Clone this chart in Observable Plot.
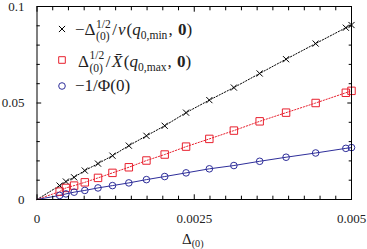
<!DOCTYPE html>
<html><head><meta charset="utf-8">
<script src="https://cdn.jsdelivr.net/npm/d3@7"></script>
<script src="https://cdn.jsdelivr.net/npm/@observablehq/plot@0.6"></script>
<style>body{margin:0;background:#fff} svg{display:block} svg text{font-family:"Liberation Serif","DejaVu Serif",serif !important}</style>
</head><body><div id="chart"></div>
<script>
// Δ_(0) values (x)
const delta = [0.00036,0.00046,0.00059,0.00076,0.00097,0.0012,0.00146,0.00174,0.00203,0.00237,0.00274,0.00313,0.00354,0.00396,0.00443,0.00491,0.005];
// −Δ^{1/2}/ν(q0,min, 0)
const nuSeries = [0.0072,0.0093,0.0115,0.015,0.0186,0.0227,0.0279,0.033,0.0382,0.045,0.0515,0.058,0.0653,0.0727,0.0808,0.089,0.0904];
// Δ^{1/2}/X̄(q0,max, 0)
const xbarSeries = [0.0041,0.006,0.0072,0.0089,0.0112,0.0138,0.0167,0.0202,0.0233,0.0274,0.0314,0.0357,0.0405,0.045,0.05,0.0553,0.0563];
// −1/Φ(0)
const phiSeries = [0.0021,0.0029,0.0038,0.0047,0.006,0.0072,0.0086,0.0103,0.0119,0.0138,0.0159,0.0176,0.0198,0.0219,0.0241,0.0265,0.0269];
const seriesKeys = ["nu","xbar","phi"];
const xTicks = [0, 0.0025, 0.005];
const xTickLabels = ["0", "0.0025", "0.005"];
const yTicks = [0, 0.05, 0.1];
const yTickLabels = ["0", "0.05", "0.1"];
const xMinor = d3.range(1, 20).filter(i => i % 10).map(i => i * 0.00025);
const yMinor = d3.range(1, 10).filter(i => i % 5).map(i => i * 0.01);

const BLACK = "#000", RED = "#e8202e", BLUE = "#2e2e9a";
const FONT = "'Liberation Serif', 'DejaVu Serif', serif";
const styleOf = {
  nu:   {color: BLACK, symbol: "times",  r: 2.9, dash: "1.3,1.7", lw: 1},
  xbar: {color: RED,   symbol: "square", r: 4.2, dash: "1.3,1.7", lw: 1},
  phi:  {color: BLUE,  symbol: "circle", r: 3.3, dash: null,      lw: 1}
};
const valuesOf = {nu: nuSeries, xbar: xbarSeries, phi: phiSeries};
const points = seriesKeys.flatMap(k => delta.map((x, i) => ({x, y: valuesOf[k][i], k})));

const marks = [];
for (const k of seriesKeys) {
  const s = styleOf[k];
  const pts = points.filter(d => d.k === k);
  // fitted line through the origin
  marks.push(Plot.line([{x: 0, y: 0}, ...pts], {x: "x", y: "y", stroke: s.color, strokeWidth: s.lw, strokeDasharray: s.dash}));
}
for (const k of seriesKeys) {
  const s = styleOf[k];
  marks.push(Plot.dot(points.filter(d => d.k === k), {x: "x", y: "y", symbol: () => s.symbol, r: s.r, stroke: s.color, strokeWidth: 1, fill: "none"}));
}

const tickAxis = (anchor, ticks, size) =>
  (anchor === "bottom" || anchor === "top")
    ? Plot.axisX(ticks, {anchor, tickSize: size, text: null, label: null, stroke: BLACK, strokeWidth: 1})
    : Plot.axisY(ticks, {anchor, tickSize: size, text: null, label: null, stroke: BLACK, strokeWidth: 1});

const chart = Plot.plot({
  width: 367, height: 249,
  marginLeft: 36.5, marginRight: 16, marginTop: 6, marginBottom: 50,
  style: {fontFamily: FONT, fontSize: "13px", color: "#000", background: "#fff"},
  x: {domain: [0, 0.005]},
  y: {domain: [0, 0.1]},
  marks: [
    ...marks,
    tickAxis("bottom", xTicks, -4.7), tickAxis("bottom", xMinor, -3.3),
    tickAxis("top", xTicks, -4.7), tickAxis("top", xMinor, -3.3),
    tickAxis("left", yTicks, -4.7), tickAxis("left", yMinor, -3.3),
    tickAxis("right", yTicks, -4.7), tickAxis("right", yMinor, -3.3),
    Plot.axisX(xTicks, {anchor: "bottom", tickSize: 0, tickPadding: 14, tickFormat: (d, i) => xTickLabels[i], label: null, fill: "#222"}),
    Plot.axisY(yTicks, {anchor: "left", tickSize: 0, tickPadding: 12.5, tickFormat: (d, i) => yTickLabels[i], label: null, fill: "#222"}),
    Plot.frame({stroke: BLACK, strokeWidth: 1})
  ]
});
document.getElementById("chart").append(chart);

const svg = d3.select(chart);
// legend symbols (same shapes and sizes as Plot's dots)
const legendRows = [
  {k: "nu", y: 29},
  {k: "xbar", y: 60},
  {k: "phi", y: 86}
];
const symType = {times: d3.symbolTimes, square: d3.symbolSquare2};
const lg = svg.append("g").attr("fill", "none").attr("stroke-width", 1);
for (const row of legendRows) {
  const s = styleOf[row.k];
  if (s.symbol === "circle") {
    lg.append("circle").attr("cx", 62).attr("cy", row.y).attr("r", s.r).attr("stroke", s.color);
  } else {
    lg.append("path").attr("transform", `translate(62,${row.y})`)
      .attr("d", d3.symbol(symType[s.symbol], Math.PI * s.r * s.r)()).attr("stroke", s.color);
  }
}

// rich text (math-like legend and axis label)
function rich(x, y, segs, size) {
  const g = svg.append("g").attr("fill", "#222").attr("text-anchor", "start");
  let cx = x;
  const put = (t, sz, dy, opts = {}) => {
    const el = g.append("text").attr("x", cx).attr("y", y + dy).attr("font-size", sz)
      .attr("font-style", opts.italic ? "italic" : null).attr("font-weight", opts.bold ? "bold" : null).text(t);
    return el.node().getComputedTextLength();
  };
  for (const s of segs) {
    if (s.stack) {
      const w1 = put(s.stack[0], size * 0.68, -size * 0.42);
      const w2 = put(s.stack[1], size * 0.68, size * 0.3);
      cx += Math.max(w1, w2) + 1.5;
    } else if (s.sub) {
      cx += put(s.sub, size * 0.68, size * 0.25, s) + 1;
    } else {
      cx += put(s.t, size, 0, s) + (s.after || 0);
    }
  }
  return cx;
}
const LS = 17;
rich(75, 35, [
  {t: "−Δ", after: 0.5}, {stack: ["1/2", "(0)"]}, {t: "/", after: 1}, {t: "ν", italic: true, after: 1}, {t: "("}, {t: "q", italic: true},
  {sub: "0,min"}, {t: ", ", after: 1}, {t: "0", bold: true}, {t: ")"}
], LS);
rich(78, 66.5, [
  {t: "Δ", after: 0.5}, {stack: ["1/2", "(0)"]}, {t: "/", after: 1.5}, {t: "X\u0304", italic: true, after: 1.5}, {t: "("}, {t: "q", italic: true},
  {sub: "0,max"}, {t: ", ", after: 1}, {t: "0", bold: true}, {t: ")"}
], LS);
rich(75, 90.5, [{t: "−1/Φ(0)"}], LS);
rich(182, 243.5, [{t: "Δ"}, {sub: "(0)"}], 15);
</script>
</body></html>
